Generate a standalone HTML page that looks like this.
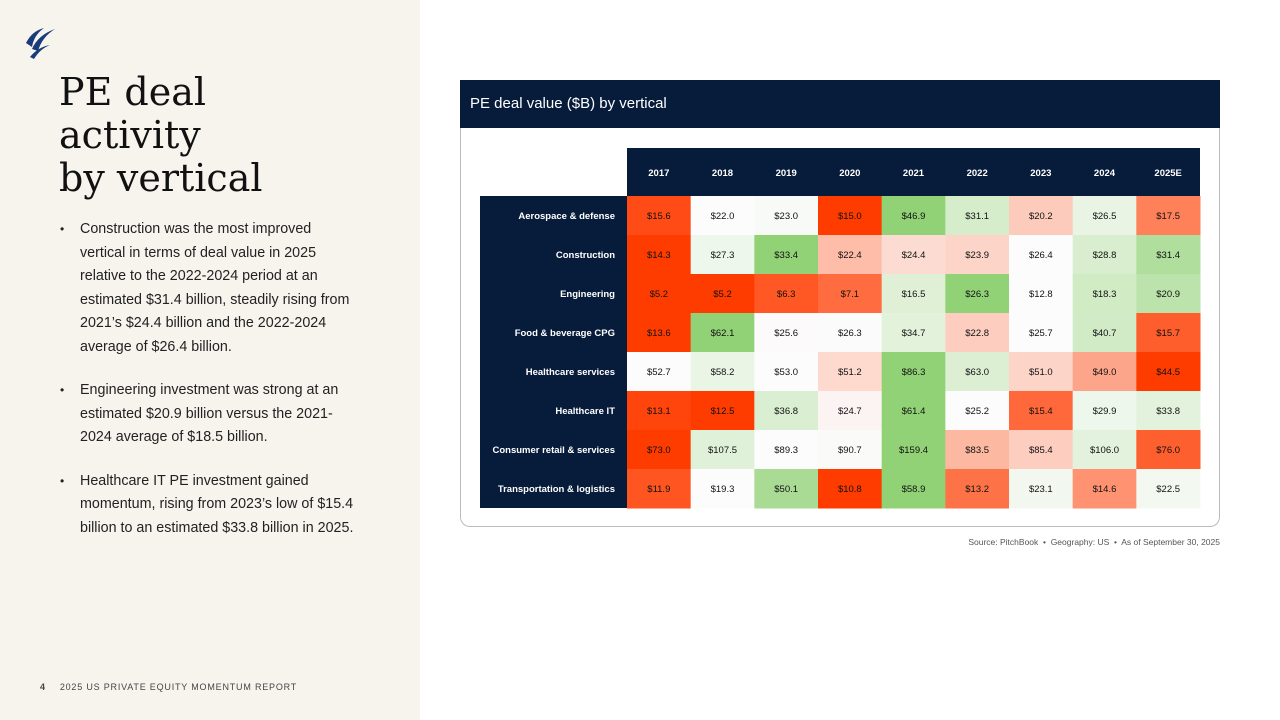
<!DOCTYPE html>
<html><head><meta charset="utf-8">
<style>
body{margin:0;width:1280px;height:720px;position:relative;background:#fff;font-family:"Liberation Sans",sans-serif;overflow:hidden}
#left{position:absolute;left:0;top:0;width:420px;height:720px;background:#f7f4ee}
h1{position:absolute;left:59px;top:71px;margin:0;font-family:"DejaVu Serif",serif;font-weight:normal;font-size:38px;line-height:43px;color:#111}
ul{position:absolute;left:60px;top:218px;margin:0;padding:0;list-style:none;width:300px}
li{position:relative;padding-left:20px;font-size:14.3px;line-height:23.5px;color:#222;margin-bottom:20px}
li:before{content:"•";position:absolute;left:0;top:0;font-size:12px}
#foot{position:absolute;left:40px;top:682px;font-size:9px;letter-spacing:0.8px;color:#444}
#foot b{margin-right:14px}
#card{position:absolute;left:460px;top:80px;width:758px;height:446px;border:1px solid #bbb;border-top:none;border-radius:0 0 10px 10px}
#hdr{position:absolute;left:460px;top:80px;width:760px;height:48px;background:#071c3a;color:#fff;font-size:15px;line-height:48px;box-sizing:border-box;padding-left:10px}
#src{position:absolute;right:60px;top:537px;font-size:8.5px;color:#555;font-family:"Liberation Sans Narrow","Liberation Sans",sans-serif}
svg text{font-family:"Liberation Sans Narrow","Liberation Sans",sans-serif}
</style></head><body>
<div id="left"></div>
<svg style="position:absolute;left:24px;top:27px" width="32" height="32" viewBox="0 0 32 32">
<path d="M2 16 Q8 4 20 1 Q10 8 8 20 Z" fill="#1a3b7a"/>
<path d="M8 22 Q14 8 31 2 Q18 10 14 24 Z" fill="#1a3b7a"/>
<path d="M6 30 Q14 20 26 18 Q16 22 10 32 Z" fill="#1a3b7a"/>
</svg>
<h1>PE deal<br>activity<br>by vertical</h1>
<ul>
<li>Construction was the most improved vertical in terms of deal value in 2025 relative to the 2022-2024 period at an estimated $31.4 billion, steadily rising from 2021’s $24.4 billion and the 2022-2024 average of $26.4 billion.</li>
<li>Engineering investment was strong at an estimated $20.9 billion versus the 2021-2024 average of $18.5 billion.</li>
<li>Healthcare IT PE investment gained momentum, rising from 2023’s low of $15.4 billion to an estimated $33.8 billion in 2025.</li>
</ul>
<div id="foot"><b>4</b>2025 US PRIVATE EQUITY MOMENTUM REPORT</div>
<div id="card"></div>
<div id="hdr">PE deal value ($B) by vertical</div>
<svg id="hm" style="position:absolute;left:0;top:0" width="1280" height="720"></svg>
<div id="src">Source: PitchBook &nbsp;•&nbsp; Geography: US &nbsp;•&nbsp; As of September 30, 2025</div>
<script>
const years=["2017","2018","2019","2020","2021","2022","2023","2024","2025E"];
const verticals=["Aerospace & defense","Construction","Engineering","Food & beverage CPG","Healthcare services","Healthcare IT","Consumer retail & services","Transportation & logistics"];
const aerospace=[15.6,22.0,23.0,15.0,46.9,31.1,20.2,26.5,17.5];
const construction=[14.3,27.3,33.4,22.4,24.4,23.9,26.4,28.8,31.4];
const engineering=[5.2,5.2,6.3,7.1,16.5,26.3,12.8,18.3,20.9];
const foodBev=[13.6,62.1,25.6,26.3,34.7,22.8,25.7,40.7,15.7];
const hcServices=[52.7,58.2,53.0,51.2,86.3,63.0,51.0,49.0,44.5];
const hcIT=[13.1,12.5,36.8,24.7,61.4,25.2,15.4,29.9,33.8];
const consumer=[73.0,107.5,89.3,90.7,159.4,83.5,85.4,106.0,76.0];
const transport=[11.9,19.3,50.1,10.8,58.9,13.2,23.1,14.6,22.5];
const rows=[aerospace,construction,engineering,foodBev,hcServices,hcIT,consumer,transport];
const svg=document.getElementById('hm');const NS="http://www.w3.org/2000/svg";
const x0=627,colW=(1200-627)/9,y0=196,rowH=(508-196)/8,labX0=480;
const xPos=i=>x0+i*colW, yPos=j=>y0+j*rowH;
function mk(t,a){const e=document.createElementNS(NS,t);for(const k in a)e.setAttribute(k,a[k]);svg.appendChild(e);return e;}
const RED=[255,60,0],WHITE=[252,252,252],GREEN=[146,210,118];
function mix(a,b,t){return "rgb("+a.map((v,i)=>Math.round(v+(b[i]-v)*t)).join(",")+")";}
function color(v,row){const s=[...row].sort((a,b)=>a-b);const mn=s[0],mx=s[s.length-1],md=s[4];
 if(v<=md) return mix(RED,WHITE,md===mn?1:(v-mn)/(md-mn));
 return mix(WHITE,GREEN,(v-md)/(mx-md));}
let h=mk('rect',{x:x0,y:148,width:1200-x0,height:48,fill:'#071c3a'});

let l=mk('rect',{x:labX0,y:y0,width:x0-labX0,height:rowH*8,fill:'#071c3a'});

years.forEach((yr,i)=>{const t=mk('text',{x:xPos(i)+colW/2,y:176,'text-anchor':'middle','font-size':'9.5',fill:'#fff','font-weight':'bold'});t.textContent=yr;
 });
verticals.forEach((v,j)=>{const t=mk('text',{x:615,y:yPos(j)+rowH/2+3.5,'text-anchor':'end','font-size':'9.5',fill:'#fff','font-weight':'bold'});t.textContent=v;
 
 rows[j].forEach((val,i)=>{const r=mk('rect',{x:xPos(i),y:yPos(j),width:colW+0.5,height:rowH+0.5,fill:color(val,rows[j])});
  
  const c=mk('text',{x:xPos(i)+colW/2,y:yPos(j)+rowH/2+3.5,'text-anchor':'middle','font-size':'9.5',fill:'#111'});c.textContent='$'+val.toFixed(1);
  });});
</script>
</body></html>
